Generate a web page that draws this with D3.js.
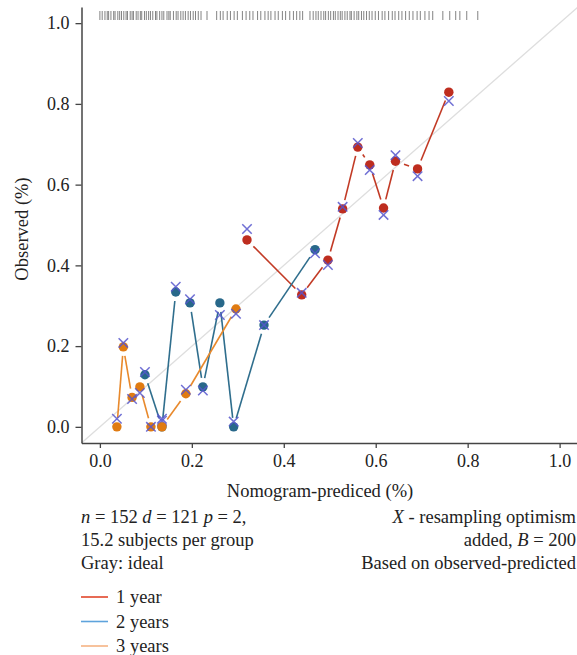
<!DOCTYPE html>
<html>
<head>
<meta charset="utf-8">
<script src="https://cdn.jsdelivr.net/npm/d3@7"></script>
<style>
  body { margin: 0; background: #fff; }
  text { font-family: "Liberation Serif", "Times New Roman", serif; fill: #222; }
</style>
</head>
<body>
<div id="chart"></div>
<script>
// calibration points (predicted, observed, bias-corrected)
var pred1 = [0.320, 0.439, 0.496, 0.528, 0.561, 0.587, 0.617, 0.643, 0.691, 0.759]
var obs1  = [0.463, 0.327, 0.413, 0.540, 0.693, 0.649, 0.542, 0.658, 0.639, 0.829]
var corr1 = [0.490, 0.332, 0.401, 0.545, 0.703, 0.636, 0.525, 0.673, 0.621, 0.807]

var pred2 = [0.098, 0.135, 0.165, 0.196, 0.224, 0.261, 0.291, 0.357, 0.468]
var obs2  = [0.129, 0.000, 0.334, 0.307, 0.099, 0.307, 0.000, 0.252, 0.439]
var corr2 = [0.136, 0.015, 0.347, 0.316, 0.090, 0.277, 0.013, 0.252, 0.430]

var pred3 = [0.037, 0.051, 0.070, 0.087, 0.111, 0.135, 0.187, 0.296]
var obs3  = [0.000, 0.198, 0.073, 0.099, 0.000, 0.000, 0.082, 0.292]
var corr3 = [0.020, 0.208, 0.069, 0.084, 0.000, 0.020, 0.092, 0.280]

// distribution of predicted values (rug along the top)
var rugValues = [0.000, 0.005, 0.011, 0.016, 0.019, 0.024, 0.030, 0.033, 0.039, 0.043, 0.047,
  0.052, 0.057, 0.060, 0.066, 0.070, 0.073, 0.079, 0.083, 0.088, 0.091, 0.097, 0.101,
  0.106, 0.110, 0.115, 0.121, 0.124, 0.130, 0.135, 0.139, 0.146, 0.150, 0.153, 0.160,
  0.166, 0.170, 0.176, 0.181, 0.186, 0.192, 0.197, 0.203, 0.208, 0.214, 0.220,
  0.233, 0.254, 0.262, 0.268, 0.277, 0.284, 0.292, 0.299, 0.310, 0.318, 0.326, 0.333,
  0.343, 0.350, 0.359, 0.366, 0.372, 0.381, 0.388, 0.397, 0.404, 0.413, 0.421, 0.428, 0.435,
  0.441, 0.457, 0.464, 0.470, 0.475, 0.481, 0.487, 0.491, 0.497, 0.502, 0.508, 0.512,
  0.518, 0.523, 0.527, 0.533, 0.538, 0.544, 0.547, 0.553, 0.559, 0.563, 0.569, 0.574,
  0.580, 0.586, 0.592, 0.599, 0.606, 0.614, 0.620, 0.628, 0.636, 0.642, 0.650, 0.657,
  0.665, 0.673, 0.681, 0.690, 0.697, 0.707, 0.716, 0.724,
  0.746, 0.761, 0.774, 0.783, 0.798, 0.822]

var ticks = [0, 0.2, 0.4, 0.6, 0.8, 1.0]
var groupLabels = ["1 year", "2 years", "3 years"]

var series = [
  {pred: pred1, obs: obs1, corr: corr1, color: "#be2d1f", lineColor: "#c23a25"},
  {pred: pred2, obs: obs2, corr: corr2, color: "#28688a", lineColor: "#2f6e8d"},
  {pred: pred3, obs: obs3, corr: corr3, color: "#e07b12", lineColor: "#e8892c"}
]
var legendColors = ["#e2462b", "#5ea3dc", "#f5b384"]

var width = 577, height = 655
var fontSize = "18.5px"

var svg = d3.select("#chart")
  .append("svg")
    .attr("width", width)
    .attr("height", height)

var x = d3.scaleLinear().domain([-0.04, 1.04]).range([81.5, 578])
var y = d3.scaleLinear().domain([-0.04, 1.04]).range([443, 7])

// ideal line
svg.append("line")
  .attr("x1", x(-0.04)).attr("y1", y(-0.04))
  .attr("x2", x(1.04)).attr("y2", y(1.04))
  .style("stroke", "#dedede")
  .style("stroke-width", 1.3)

// rug
svg.selectAll(".rug")
  .data(rugValues)
  .enter()
  .append("line")
    .attr("class", "rug")
    .attr("x1", d => x(d)).attr("x2", d => x(d))
    .attr("y1", 11).attr("y2", 20)
    .style("stroke", "#333")
    .style("stroke-width", 1)
    .style("opacity", 0.6)

// axes (R style, L shaped)
var xAxis = svg.append("g")
  .attr("transform", "translate(0," + y(-0.04) + ")")
  .call(d3.axisBottom(x).tickValues(ticks).tickFormat(d3.format(".1f")).tickSize(5).tickSizeOuter(0))
var yAxis = svg.append("g")
  .attr("transform", "translate(" + x(-0.04) + ",0)")
  .call(d3.axisLeft(y).tickValues(ticks).tickFormat(d3.format(".1f")).tickSize(6).tickSizeOuter(0))

;[xAxis, yAxis].forEach(function(g) {
  g.select(".domain").style("stroke", "#444").style("stroke-width", 1.5)
  g.selectAll(".tick line").style("stroke", "#444").style("stroke-width", 1.3)
  g.selectAll(".tick text")
    .style("font-family", '"Liberation Serif", serif')
    .style("font-size", "18px")
    .style("fill", "#222")
})
xAxis.selectAll(".tick text").attr("y", 11)
yAxis.selectAll(".tick text").attr("x", -12)

// axis titles
svg.append("text")
  .attr("x", 320).attr("y", 497)
  .attr("text-anchor", "middle")
  .style("font-size", fontSize)
  .text("Nomogram-prediced (%)")
svg.append("text")
  .attr("transform", "translate(28," + 229 + ") rotate(-90)")
  .attr("text-anchor", "middle")
  .style("font-size", fontSize)
  .text("Observed (%)")

// type = "b" style line: segments with a gap round every point
var gap = 9
function gappedSegments(xs, ys) {
  var segs = []
  for (var i = 0; i < xs.length - 1; i++) {
    var x1 = x(xs[i]), y1 = y(ys[i]), x2 = x(xs[i + 1]), y2 = y(ys[i + 1])
    var dx = x2 - x1, dy = y2 - y1, len = Math.sqrt(dx * dx + dy * dy)
    if (len <= 2 * gap) continue
    var ux = dx / len, uy = dy / len
    segs.push([x1 + ux * gap, y1 + uy * gap, x2 - ux * gap, y2 - uy * gap])
  }
  return segs
}

series.forEach(function(s) {
  var g = svg.append("g")
  g.selectAll("line")
    .data(gappedSegments(s.pred, s.obs))
    .enter()
    .append("line")
      .attr("x1", d => d[0]).attr("y1", d => d[1])
      .attr("x2", d => d[2]).attr("y2", d => d[3])
      .style("stroke", s.lineColor)
      .style("stroke-width", 1.6)

  g.selectAll("circle")
    .data(d3.range(s.pred.length))
    .enter()
    .append("circle")
      .attr("cx", i => x(s.pred[i]))
      .attr("cy", i => y(s.obs[i]))
      .attr("r", 4.7)
      .style("fill", s.color)

  // bias-corrected marks
  var cross = d3.symbol().type(d3.symbolX).size(60)
  g.selectAll(".cross")
    .data(d3.range(s.pred.length))
    .enter()
    .append("path")
      .attr("class", "cross")
      .attr("d", cross)
      .attr("transform", i => "translate(" + x(s.pred[i]) + "," + y(s.corr[i]) + ")")
      .style("fill", "none")
      .style("stroke", "#5656cc")
      .style("stroke-width", 1.5)
      .style("opacity", 0.85)
})

// notes under the plot
var left = svg.append("g").style("font-size", fontSize)
var t1 = left.append("text").attr("x", 81).attr("y", 523)
t1.append("tspan").style("font-style", "italic").text("n")
t1.append("tspan").text(" = 152 ")
t1.append("tspan").style("font-style", "italic").text("d")
t1.append("tspan").text(" = 121 ")
t1.append("tspan").style("font-style", "italic").text("p")
t1.append("tspan").text(" = 2,")
left.append("text").attr("x", 81).attr("y", 546).text("15.2 subjects per group")
left.append("text").attr("x", 81).attr("y", 569).text("Gray: ideal")

var right = svg.append("g").style("font-size", fontSize).attr("text-anchor", "end")
var r1 = right.append("text").attr("x", 576).attr("y", 523)
r1.append("tspan").style("font-style", "italic").text("X")
r1.append("tspan").text(" - resampling optimism")
var r2 = right.append("text").attr("x", 576).attr("y", 546)
r2.append("tspan").text("added, ")
r2.append("tspan").style("font-style", "italic").text("B")
r2.append("tspan").text(" = 200")
right.append("text").attr("x", 576).attr("y", 569).text("Based on observed-predicted")

// legend
var legend = svg.selectAll(".legend")
  .data(groupLabels)
  .enter()
  .append("g")
    .attr("class", "legend")
    .attr("transform", (d, i) => "translate(81," + (597 + i * 24.5) + ")")
legend.append("line")
  .attr("x1", 0).attr("x2", 27)
  .style("stroke", (d, i) => legendColors[i])
  .style("stroke-width", 1.6)
legend.append("text")
  .attr("x", 35).attr("y", 6)
  .style("font-size", fontSize)
  .text(d => d)
</script>
</body>
</html>
